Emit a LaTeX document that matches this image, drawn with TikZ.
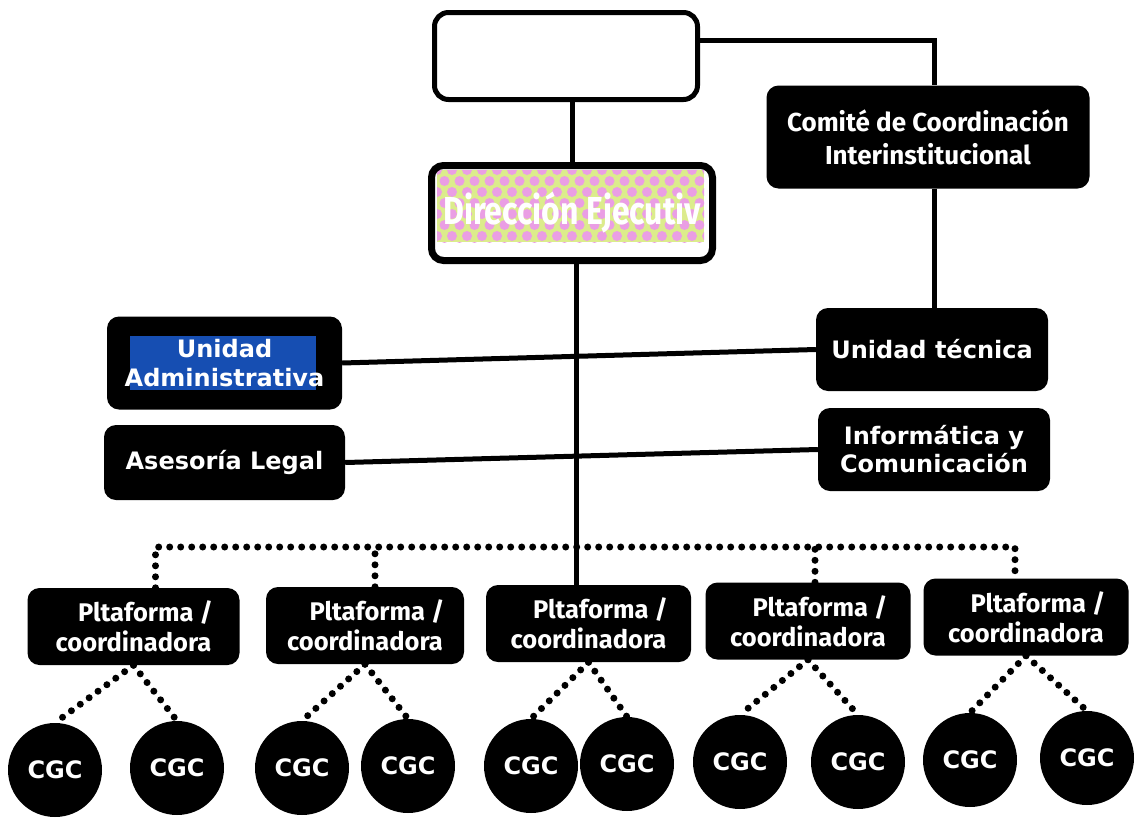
\documentclass[tikz,border=0pt]{standalone}
\usepackage{fontspec}
\usepackage{xcolor}
\usepackage{tikz}
\newfontfamily\verdfont{DejaVu Sans}
\newfontfamily\frutfont{Fira Sans}
\definecolor{adminblue}{RGB}{22,78,178}
\definecolor{dotpink}{RGB}{234,158,228}
\definecolor{dotgreen}{RGB}{220,236,140}

\begin{document}
\begin{tikzpicture}[x=1pt,y=-1pt,
  blackbox/.style={fill=black,text=white,rounded corners=12pt,align=center,inner sep=0pt},
  verdtext/.style={font=\verdfont\bfseries\fontsize{24}{29}\selectfont},
  fruttext/.style={font=\frutfont\bfseries\fontsize{25.5}{30}\selectfont},
  platbox/.style={blackbox,fruttext,minimum width=205pt,minimum height=77pt},
  cgc/.style={circle,fill=black,text=white,minimum size=94pt,inner sep=0pt,verdtext},
  solidline/.style={line width=5pt},
  dotline/.style={line width=7pt,dash pattern=on 0pt off 11pt,line cap=round}]
\fill[white] (0,0) rectangle (1141,817);
\useasboundingbox (0,0) rectangle (1141,817);

\node[draw,line width=5pt,fill=white,rounded corners=14pt,minimum width=263pt,minimum height=87pt] (top) at (566,56) {};
\node[blackbox,fruttext,font=\frutfont\bfseries\fontsize{26}{33}\selectfont,minimum width=323pt,minimum height=103pt] (comite) at (928,137) {Comité de Coordinación\\Interinstitucional};

\begin{scope}
\clip (437,170) rectangle (704,242);
\fill[dotgreen] (437,170) rectangle (704,242);
\foreach \i in {0,...,18}
  \foreach \j in {0,...,7}
    \fill[dotpink] ({437+15*\i+7.5*mod(\j,2)},{170+11*\j}) circle (5);
\end{scope}
\node[draw,line width=7pt,rounded corners=12pt,minimum width=281pt,minimum height=95pt,text=white,
  font=\frutfont\bfseries\fontsize{39}{39}\selectfont] (direccion) at (572,213) {\scalebox{0.82}[1]{Dirección Ejecutiv}};

\node[blackbox,verdtext,minimum width=235pt,minimum height=93pt,
  path picture={\fill[adminblue,sharp corners] ([xshift=23pt,yshift=-19pt]path picture bounding box.north west) rectangle ([xshift=-26pt,yshift=20pt]path picture bounding box.south east);}]
  (admin) at (224.5,363) {Unidad\\Administrativa};
\node[blackbox,verdtext,minimum width=232pt,minimum height=83pt] (tecnica) at (932,349.5) {Unidad técnica};
\node[blackbox,verdtext,minimum width=241pt,minimum height=75pt] (legal) at (224.5,462.5) {Asesoría Legal};
\node[blackbox,verdtext,font=\verdfont\bfseries\fontsize{24}{28}\selectfont,minimum width=232pt,minimum height=83pt] (info) at (934,449.5) {Informática y\\Comunicación};

\node[platbox,minimum width=212pt] (plat1) at (133.5,626.5) {\hspace*{24pt}Pltaforma /\\coordinadora};
\node[platbox,minimum width=198pt] (plat2) at (365,625.5) {\hspace*{24pt}Pltaforma /\\coordinadora};
\node[platbox] (plat3) at (588.5,623.5) {\hspace*{24pt}Pltaforma /\\coordinadora};
\node[platbox] (plat4) at (808,621) {\hspace*{24pt}Pltaforma /\\coordinadora};
\node[platbox] (plat5) at (1026,617) {\hspace*{24pt}Pltaforma /\\coordinadora};

\node[cgc] (cgc1a) at (55,770) {CGC};
\node[cgc] (cgc1b) at (177,768) {CGC};
\node[cgc] (cgc2a) at (302,768) {CGC};
\node[cgc] (cgc2b) at (408,766) {CGC};
\node[cgc] (cgc3a) at (531,766) {CGC};
\node[cgc] (cgc3b) at (627,764) {CGC};
\node[cgc] (cgc4a) at (740,762) {CGC};
\node[cgc] (cgc4b) at (858,762) {CGC};
\node[cgc] (cgc5a) at (970,760) {CGC};
\node[cgc] (cgc5b) at (1087,758) {CGC};

\draw[solidline] ([yshift=16pt]top.east) -| ([xshift=6pt]comite.north);
\draw[solidline] ([xshift=6pt]comite.south) -- ([xshift=6pt]comite.south |- tecnica.north);
\draw[solidline] (top.south -| direccion.north) -- (direccion.north);
\draw[solidline] ([xshift=4pt]direccion.south) -- ([xshift=4pt]direccion.south |- plat3.north);
\draw[solidline] (admin.east) -- (tecnica.west);
\draw[solidline] (legal.east) -- (info.west);

\coordinate (bus) at (0,547);
\draw[dotline] ([xshift=22pt]plat1.north) |- ([xshift=-11pt]plat5.north |- bus) -- ([xshift=-11pt]plat5.north);
\draw[dotline] ([xshift=10pt]plat2.north) -- ([xshift=10pt]plat2.north |- bus);
\draw[dotline] ([xshift=7pt]plat4.north) -- ([xshift=7pt]plat4.north |- bus);

\draw[dotline] (plat1.south) -- (cgc1a.north);
\draw[dotline] (plat1.south) -- (cgc1b.north);
\draw[dotline] (plat2.south) -- (cgc2a.north);
\draw[dotline] (plat2.south) -- (cgc2b.north);
\draw[dotline] (plat3.south) -- (cgc3a.north);
\draw[dotline] (plat3.south) -- (cgc3b.north);
\draw[dotline] (plat4.south) -- (cgc4a.north);
\draw[dotline] (plat4.south) -- (cgc4b.north);
\draw[dotline] (plat5.south) -- (cgc5a.north);
\draw[dotline] (plat5.south) -- (cgc5b.north);
\end{tikzpicture}
\end{document}
